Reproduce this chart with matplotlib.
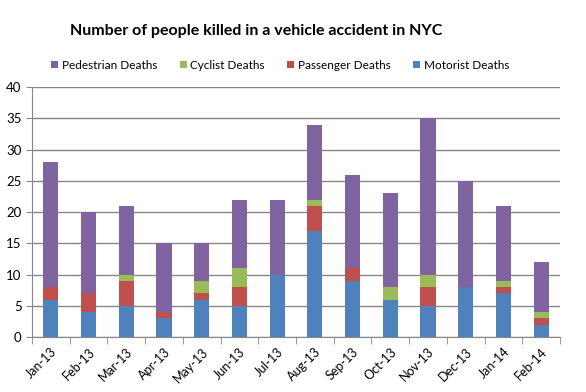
import matplotlib.pyplot as plt
import numpy as np

months = ['Jan-13', 'Feb-13', 'Mar-13', 'Apr-13', 'May-13', 'Jun-13', 'Jul-13',
          'Aug-13', 'Sep-13', 'Oct-13', 'Nov-13', 'Dec-13', 'Jan-14', 'Feb-14']
motorist = [6, 4, 5, 3, 6, 5, 10, 17, 9, 6, 5, 8, 7, 2]
passenger = [2, 3, 4, 1, 1, 3, 0, 4, 2, 0, 3, 0, 1, 1]
cyclist = [0, 0, 1, 0, 2, 3, 0, 1, 0, 2, 2, 0, 1, 1]
pedestrian = [20, 13, 11, 11, 6, 11, 12, 12, 15, 15, 25, 17, 12, 8]

plt.rcParams['font.family'] = ['Lato', 'DejaVu Sans']

fig = plt.figure(figsize=(5.86, 3.92), dpi=100)
ax = fig.add_axes([0.0546, 0.140, 0.901, 0.638])

x = np.arange(len(months))
w = 0.40
grid_c = '#868686'

b1 = ax.bar(x, motorist, w, color='#4F81BD', zorder=3, label='Motorist Deaths')
bot = np.array(motorist)
b2 = ax.bar(x, passenger, w, bottom=bot, color='#C0504D', zorder=3, label='Passenger Deaths')
bot = bot + np.array(passenger)
b3 = ax.bar(x, cyclist, w, bottom=bot, color='#9BBB59', zorder=3, label='Cyclist Deaths')
bot = bot + np.array(cyclist)
b4 = ax.bar(x, pedestrian, w, bottom=bot, color='#8064A2', zorder=3, label='Pedestrian Deaths')

ax.set_xlim(-0.5, len(months) - 0.5)
ax.set_ylim(0, 40)
ax.set_yticks(range(0, 41, 5))
ax.yaxis.grid(True, color=grid_c, linewidth=1)
ax.set_axisbelow(True)

ax.set_xticks(x)
ax.set_xticklabels(months, rotation=45, ha='right', rotation_mode='anchor', fontsize=9)
ax.set_xticks(np.arange(-0.5, len(months)), minor=True)
ax.tick_params(axis='x', which='major', length=0, pad=6)
ax.tick_params(axis='x', which='minor', length=5, color=grid_c)
ax.tick_params(axis='y', length=4, color=grid_c, labelsize=9.5)

for s in ['top', 'right']:
    ax.spines[s].set_visible(False)
ax.spines['left'].set_color(grid_c)
ax.spines['bottom'].set_color(grid_c)

fig.text(0.437, 0.921, 'Number of people killed in a vehicle accident in NYC',
         ha='center', va='center', fontsize=11.5, fontweight='bold')

fig.legend([b4, b3, b2, b1],
           ['Pedestrian Deaths', 'Cyclist Deaths', 'Passenger Deaths', 'Motorist Deaths'],
           loc='center', bbox_to_anchor=(0.478, 0.834), ncol=4, frameon=False,
           fontsize=8.5, handlelength=0.6, handleheight=0.6, handletextpad=0.3,
           columnspacing=1.9)

fig.savefig('out.png', dpi=100)
